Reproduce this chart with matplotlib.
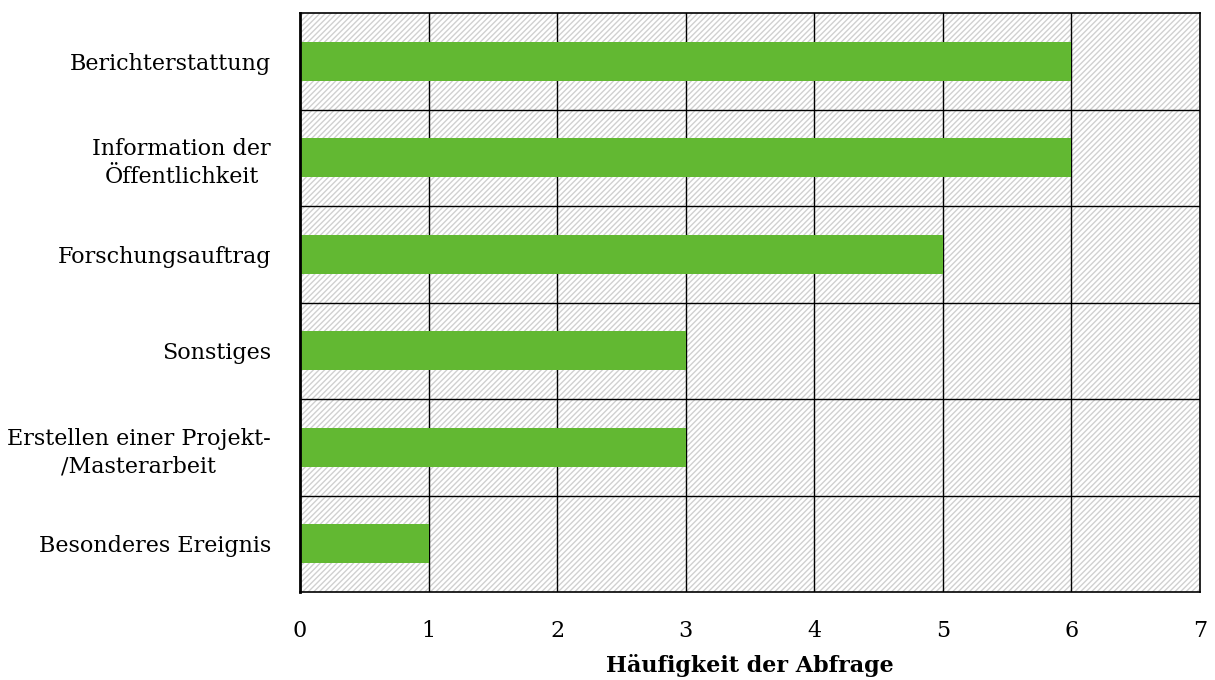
import matplotlib
matplotlib.use("Agg")
import matplotlib.pyplot as plt
from matplotlib.patches import Rectangle

categories = ["Berichterstattung", "Information der\nÖffentlichkeit", "Forschungsauftrag",
              "Sonstiges", "Erstellen einer Projekt-\n/Masterarbeit", "Besonderes Ereignis"]
values = [6, 6, 5, 3, 3, 1]
xticks = [0, 1, 2, 3, 4, 5, 6, 7]
xlabel = "Häufigkeit der Abfrage"

plt.rcParams['font.family'] = ['DejaVu Serif']
plt.rcParams['hatch.linewidth'] = 1.0

fig = plt.figure(figsize=(12.15, 6.8), dpi=100)
ax = fig.add_axes([300/1215, 1-592/680, 900/1215, (592-13)/680])

ax.add_patch(Rectangle((0, 0), 1, 1, transform=ax.transAxes, facecolor='white',
                       edgecolor='#d0d0d0', hatch='//////', lw=0, zorder=0))
ypos = list(range(len(categories)))
for x in xticks[1:-1]:
    ax.axvline(x, color='black', lw=1, zorder=1)
for i in range(len(categories) - 1):
    ax.axhline(i + 0.5, color='black', lw=1, zorder=1)
ax.barh(ypos, values, height=0.4, color='#62B832', zorder=2)
ax.set_xlim(0, 7)
ax.set_ylim(len(categories) - 0.5, -0.5)
ax.set_xticks(xticks)
ax.set_yticks(ypos)
ax.set_yticklabels(categories, multialignment='center', linespacing=1.35)
ax.tick_params(axis='both', length=0, labelsize=16)
ax.tick_params(axis='y', pad=21)
ax.tick_params(axis='x', pad=20)
for s in ax.spines.values():
    s.set_color('black')
    s.set_linewidth(1.2)
    s.set_zorder(4)
ax.spines['left'].set_linewidth(2)
ax.set_xlabel(xlabel, fontsize=16, fontweight='bold', labelpad=9)
fig.savefig("out.png", dpi=100)
